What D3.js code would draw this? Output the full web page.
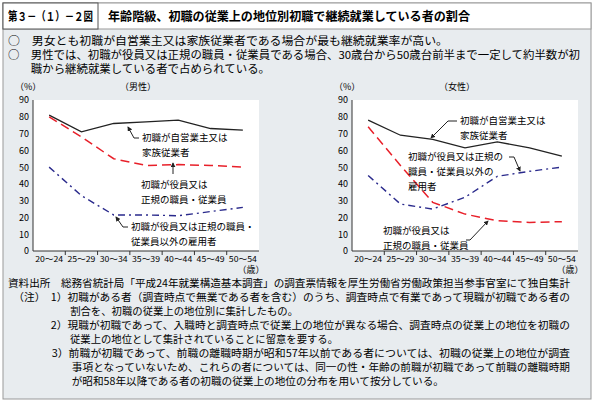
<!DOCTYPE html><html><head><meta charset="utf-8"><script src="https://cdn.jsdelivr.net/npm/d3@7"></script>
<style>body{margin:0;background:#fff;font-family:"Noto Sans CJK JP",sans-serif}</style></head><body><svg id="c" width="596" height="404"></svg>
<script>
const categories=["20～24","25～29","30～34","35～39","40～44","45～49","50～54"];
const yTicks=[0,10,20,30,40,50,60,70,80,90];
const maleSelf=[81,71,76,77,78,73,72];
const maleRegular=[80,68,55,51,51.5,51,50];
const maleNonRegular=[50,33,21.5,21.5,21,23.5,26];
const femaleSelf=[78,69,66.5,61.5,65,61.5,56.5];
const femaleRegular=[74,51,29,22,18,17,17.5];
const femaleNonRegular=[45,28,25,32,44.5,47.5,50];
const svg=d3.select("#c");
const F="Noto Sans CJK JP";
svg.append("rect").attr("x",3).attr("y",3).attr("width",588).attr("height",396).attr("fill","#e8ecef").attr("stroke","#999");
svg.append("rect").attr("x",3).attr("y",3).attr("width",588).attr("height",26).attr("fill","#fff").attr("stroke","#999");
svg.append("rect").attr("x",3).attr("y",3).attr("width",95).attr("height",26).attr("fill","#fff").attr("stroke","#555");
svg.append("text").attr("x",8).attr("y",21).text("第３－（１）－２図").attr("font-size",12).attr("font-weight","bold").attr("font-family",F).attr("textLength",85).attr("lengthAdjust","spacingAndGlyphs");
svg.append("text").attr("x",108).attr("y",21).text("年齢階級、初職の従業上の地位別初職で継続就業している者の割合").attr("font-size",12.5).attr("font-weight","bold").attr("font-family",F).attr("textLength",362).attr("lengthAdjust","spacingAndGlyphs");
const bl=[["○　男女とも初職が自営業主又は家族従業者である場合が最も継続就業率が高い。",45,440],["○　男性では、初職が役員又は正規の職員・従業員である場合、30歳台から50歳台前半まで一定して約半数が初",59,572],["　　職から継続就業している者で占められている。",73,262]];
bl.forEach(d=>svg.append("text").attr("x",8).attr("y",d[1]).text(d[0]).attr("font-size",11).attr("font-family",F).attr("textLength",d[2]).attr("lengthAdjust","spacingAndGlyphs"));
function panel(x0,x1,title,s,r,n,labels){
 const x=d3.scalePoint().domain(categories).range([x0+16,x1-16]);
 const y=d3.scaleLinear().domain([0,90]).range([251,100]);
 const g=svg.append("g").attr("font-family",F);
 g.append("rect").attr("x",x0).attr("y",100).attr("width",x1-x0).attr("height",151).attr("fill","#fff");
 g.append("g").attr("transform",`translate(${x0},0)`).call(d3.axisLeft(y).tickValues(yTicks).tickSize(0).tickPadding(4)).call(a=>a.select(".domain").remove()).selectAll("text").attr("font-size",9).attr("font-family",F);
 g.append("line").attr("x1",x0).attr("x2",x0).attr("y1",100).attr("y2",251).attr("stroke","#333");
 const step=(x1-x0)/7;
 g.append("line").attr("x1",x0).attr("x2",x1).attr("y1",251).attr("y2",251).attr("stroke","#333");
 for(let i=1;i<7;i++)g.append("line").attr("x1",x0+step*i).attr("x2",x0+step*i).attr("y1",251).attr("y2",255).attr("stroke","#333");
 categories.forEach((c,i)=>g.append("text").attr("x",x0+step*(i+.5)).attr("y",262).attr("text-anchor","middle").attr("font-size",8).attr("textLength",28).attr("lengthAdjust","spacingAndGlyphs").text(c));
 g.append("text").attr("x",x1-8).attr("y",273).attr("text-anchor","middle").attr("font-size",9).text("（歳）");
 g.append("text").attr("x",x0-18).attr("y",90).attr("font-size",9).text("（%）");
 g.append("text").attr("x",(x0+x1)/2-8).attr("y",90).attr("text-anchor","middle").attr("font-size",9).text(title);
 const xs=i=>x0+step*(i+.5);
 const line=d3.line().x((d,i)=>xs(i)).y(d=>y(d));
 g.append("path").attr("d",line(s)).attr("fill","none").attr("stroke","#222").attr("stroke-width",1.3);
 g.append("path").attr("d",line(r)).attr("fill","none").attr("stroke","#e8202a").attr("stroke-width",1.5).attr("stroke-dasharray","9,5");
 g.append("path").attr("d",line(n)).attr("fill","none").attr("stroke","#2a2a8c").attr("stroke-width",1.4).attr("stroke-dasharray","7,4,2,4");
 labels.forEach(L=>{L.t.forEach((t,k)=>g.append("text").attr("x",L.x).attr("y",L.y+k*15).attr("font-size",9.5).text(t));
  g.append("path").attr("d",L.p).attr("fill","none").attr("stroke","#222").attr("marker-end","url(#ar)");});
}
svg.append("defs").append("marker").attr("id","ar").attr("viewBox","0 0 6 6").attr("refX",5).attr("refY",3).attr("markerWidth",5).attr("markerHeight",5).attr("orient","auto").append("path").attr("d","M0,0L6,3L0,6z").attr("fill","#222");
panel(33,259,"（男性）",maleSelf,maleRegular,maleNonRegular,[
 {x:142,y:141,t:["初職が自営業主又は","家族従業者"],p:"M139,138 L134,138 L128,127"},
 {x:141,y:188,t:["初職が役員又は","正規の職員・従業員"],p:"M173,174 L173,163"},
 {x:131,y:230,t:["初職が役員又は正規の職員・","従業員以外の雇用者"],p:"M128,227 L123,227 L116,217"}]);
panel(352,578,"（女性）",femaleSelf,femaleRegular,femaleNonRegular,[
 {x:460,y:124,t:["初職が自営業主又は","家族従業者"],p:"M457,121 L448,121 L431,138"},
 {x:408,y:160,t:["初職が役員又は正規の","職員・従業員以外の","雇用者"],p:"M509,157 L514,157 L520,171"},
 {x:383,y:234,t:["初職が役員又は","正規の職員・従業員"],p:"M466,240 L470,240 L488,221"}]);
const notes=[[8,287,"資料出所　総務省統計局「平成24年就業構造基本調査」の調査票情報を厚生労働省労働政策担当参事官室にて独自集計",562],
[8,301,"　（注）　1）初職がある者（調査時点で無業である者を含む）のうち、調査時点で有業であって現職が初職である者の",562],
[8,315,"　　　　　　割合を、初職の従業上の地位別に集計したもの。",290],
[8,329,"　　　　2）現職が初職であって、入職時と調査時点で従業上の地位が異なる場合、調査時点の従業上の地位を初職の",562],
[8,343,"　　　　　　従業上の地位として集計されていることに留意を要する。",330],
[8,357,"　　　　3）前職が初職であって、前職の離職時期が昭和57年以前である者については、初職の従業上の地位が調査",562],
[8,371,"　　　　　　事項となっていないため、これらの者については、同一の性・年齢の前職が初職であって前職の離職時期",562],
[8,385,"　　　　　　が昭和58年以降である者の初職の従業上の地位の分布を用いて按分している。",436]];
notes.forEach(d=>svg.append("text").attr("x",d[0]).attr("y",d[1]).text(d[2]).attr("font-size",10.3).attr("font-family",F).attr("textLength",d[3]).attr("lengthAdjust","spacingAndGlyphs"));
</script></body></html>
